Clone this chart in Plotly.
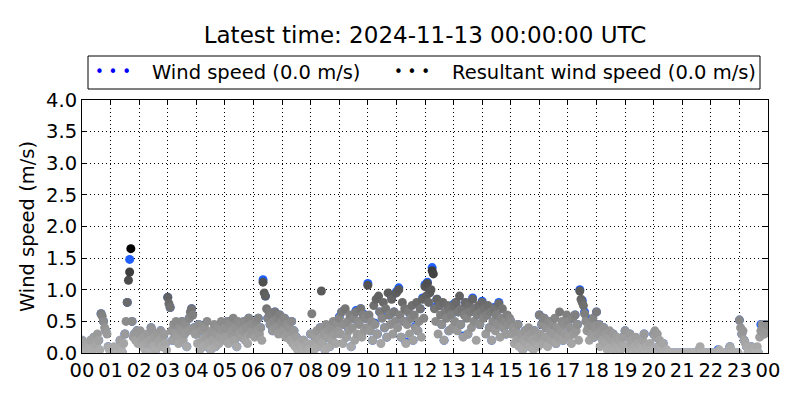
import plotly.graph_objects as go

# Resultant wind speed, 2.5-minute samples, 24 values per hour (00..23)
resultant_by_hour = [
    [0.2, 0.05, 0.1, 0.0, 0.15, 0.05, 0.1, 0.2, 0.0, 0.05, 0.25, 0.1, 0.15, 0.3, 0.2, 0.05, 0.62, 0.58, 0.5, 0.4, 0.35, 0.3, 0.1, 0.05],
    [0.0, 0.05, 0.0, 0.1, 0.0, 0.05, 0.0, 0.1, 0.2, 0.05, 0.0, 0.15, 0.3, 0.5, 0.8, 1.15, 1.28, 1.65, 0.5, 0.25, 0.3, 0.2, 0.35, 0.15],
    [0.3, 0.35, 0.2, 0.1, 0.25, 0.05, 0.15, 0.3, 0.0, 0.2, 0.4, 0.35, 0.1, 0.25, 0.05, 0.3, 0.15, 0.2, 0.35, 0.1, 0.25, 0.3, 0.15, 0.05],
    [0.88, 0.78, 0.72, 0.35, 0.2, 0.45, 0.3, 0.5, 0.25, 0.15, 0.4, 0.35, 0.5, 0.2, 0.3, 0.45, 0.1, 0.35, 0.55, 0.65, 0.7, 0.6, 0.4, 0.3],
    [0.3, 0.15, 0.45, 0.05, 0.35, 0.2, 0.1, 0.4, 0.25, 0.5, 0.15, 0.3, 0.05, 0.35, 0.2, 0.45, 0.1, 0.3, 0.4, 0.15, 0.25, 0.5, 0.35, 0.2],
    [0.4, 0.25, 0.5, 0.15, 0.45, 0.3, 0.35, 0.55, 0.2, 0.4, 0.1, 0.5, 0.3, 0.45, 0.25, 0.35, 0.5, 0.2, 0.4, 0.15, 0.55, 0.3, 0.45, 0.35],
    [0.45, 0.25, 0.5, 0.35, 0.55, 0.3, 0.4, 0.2, 1.12, 0.95, 0.9, 0.7, 0.55, 0.65, 0.45, 0.6, 0.35, 0.5, 0.65, 0.4, 0.55, 0.3, 0.6, 0.45],
    [0.5, 0.35, 0.55, 0.25, 0.45, 0.3, 0.4, 0.2, 0.5, 0.15, 0.35, 0.1, 0.25, 0.05, 0.15, 0.0, 0.1, 0.05, 0.2, 0.0, 0.1, 0.15, 0.05, 0.0],
    [0.3, 0.62, 0.15, 0.05, 0.25, 0.35, 0.1, 0.2, 0.4, 0.98, 0.15, 0.3, 0.05, 0.45, 0.25, 0.35, 0.1, 0.4, 0.2, 0.5, 0.3, 0.15, 0.45, 0.35],
    [0.55, 0.3, 0.65, 0.15, 0.45, 0.7, 0.25, 0.5, 0.35, 0.6, 0.1, 0.4, 0.55, 0.2, 0.65, 0.3, 0.5, 0.45, 0.7, 0.25, 0.6, 0.35, 0.55, 0.4],
    [1.07, 0.6, 0.35, 0.5, 0.2, 0.75, 0.45, 0.85, 0.3, 0.9, 0.65, 0.15, 0.55, 0.8, 0.4, 0.7, 0.25, 0.95, 0.6, 0.45, 0.85, 0.3, 0.65, 0.5],
    [0.95, 0.4, 1.0, 0.6, 0.25, 0.8, 0.5, 0.7, 0.15, 0.45, 0.65, 0.3, 0.55, 0.75, 0.2, 0.6, 0.4, 0.8, 0.35, 0.5, 0.7, 0.25, 0.85, 0.55],
    [1.05, 0.9, 1.1, 0.8, 0.95, 1.0, 1.3, 1.25, 0.7, 0.5, 0.85, 0.3, 0.75, 0.6, 0.45, 0.8, 0.2, 0.65, 0.55, 0.75, 0.35, 0.7, 0.6, 0.4],
    [0.75, 0.5, 0.8, 0.35, 0.65, 0.9, 0.45, 0.7, 0.25, 0.6, 0.8, 0.55, 0.3, 0.75, 0.65, 0.4, 0.85, 0.5, 0.7, 0.2, 0.6, 0.75, 0.45, 0.65],
    [0.8, 0.55, 0.7, 0.3, 0.6, 0.75, 0.4, 0.65, 0.2, 0.5, 0.7, 0.35, 0.6, 0.45, 0.78, 0.25, 0.55, 0.7, 0.4, 0.5, 0.3, 0.6, 0.45, 0.55],
    [0.5, 0.3, 0.4, 0.15, 0.35, 0.2, 0.45, 0.1, 0.25, 0.3, 0.05, 0.2, 0.35, 0.15, 0.25, 0.4, 0.1, 0.3, 0.2, 0.05, 0.35, 0.15, 0.25, 0.1],
    [0.6, 0.3, 0.45, 0.15, 0.55, 0.25, 0.4, 0.1, 0.5, 0.35, 0.2, 0.45, 0.3, 0.55, 0.15, 0.4, 0.25, 0.65, 0.35, 0.5, 0.2, 0.45, 0.3, 0.6],
    [0.5, 0.25, 0.4, 0.15, 0.55, 0.3, 0.6, 0.35, 0.45, 0.2, 0.98, 0.85, 0.8, 0.75, 0.62, 0.5, 0.35, 0.4, 0.2, 0.45, 0.3, 0.55, 0.25, 0.4],
    [0.65, 0.3, 0.45, 0.1, 0.35, 0.2, 0.4, 0.15, 0.3, 0.05, 0.25, 0.35, 0.1, 0.2, 0.3, 0.05, 0.15, 0.25, 0.1, 0.2, 0.05, 0.15, 0.25, 0.1],
    [0.35, 0.1, 0.25, 0.05, 0.3, 0.15, 0.2, 0.0, 0.1, 0.25, 0.05, 0.15, 0.0, 0.1, 0.05, 0.2, 0.3, 0.0, 0.1, 0.05, 0.0, 0.15, 0.05, 0.0],
    [0.3, 0.35, 0.25, 0.3, 0.1, 0.2, 0.0, 0.05, 0.15, 0.0, 0.0, 0.05, 0.0, 0.0, 0.0, 0.0, 0.0, 0.0, 0.0, 0.0, 0.0, 0.0, 0.0, 0.0],
    [0.0, 0.0, 0.0, 0.0, 0.0, 0.0, 0.0, 0.0, 0.0, 0.0, 0.0, 0.0, 0.0, 0.0, 0.05, 0.1, 0.0, 0.0, 0.0, 0.0, 0.0, 0.0, 0.0, 0.0],
    [0.0, 0.0, 0.0, 0.0, 0.0, 0.0, 0.0, 0.05, 0.0, 0.0, 0.0, 0.0, 0.0, 0.0, 0.0, 0.0, 0.1, 0.05, 0.0, 0.0, 0.0, 0.0, 0.0, 0.0],
    [0.52, 0.4, 0.3, 0.35, 0.2, 0.15, 0.1, 0.0, 0.05, 0.0, 0.1, 0.0, 0.05, 0.0, 0.0, 0.1, 0.0, 0.25, 0.35, 0.45, 0.4, 0.3, 0.35, 0.45],
]

# Wind speed, 5-minute samples, 12 values per hour (00..23)
wind_by_hour = [
    [0.2, 0.1, 0.15, 0.1, 0.0, 0.25, 0.15, 0.2, 0.62, 0.5, 0.35, 0.1],
    [0.0, 0.0, 0.0, 0.0, 0.2, 0.0, 0.3, 0.8, 1.48, 0.5, 0.3, 0.35],
    [0.3, 0.2, 0.25, 0.15, 0.0, 0.4, 0.1, 0.05, 0.15, 0.35, 0.25, 0.15],
    [0.88, 0.72, 0.2, 0.3, 0.25, 0.4, 0.5, 0.3, 0.1, 0.55, 0.7, 0.4],
    [0.3, 0.45, 0.35, 0.1, 0.25, 0.15, 0.05, 0.2, 0.1, 0.4, 0.25, 0.35],
    [0.4, 0.5, 0.45, 0.35, 0.2, 0.1, 0.3, 0.25, 0.5, 0.4, 0.55, 0.45],
    [0.45, 0.5, 0.55, 0.4, 1.16, 0.9, 0.55, 0.45, 0.35, 0.65, 0.55, 0.6],
    [0.5, 0.55, 0.45, 0.4, 0.5, 0.35, 0.25, 0.15, 0.1, 0.2, 0.1, 0.05],
    [0.3, 0.15, 0.25, 0.1, 0.4, 0.15, 0.05, 0.25, 0.1, 0.2, 0.3, 0.45],
    [0.57, 0.65, 0.45, 0.25, 0.37, 0.1, 0.55, 0.67, 0.5, 0.7, 0.62, 0.55],
    [1.1, 0.35, 0.2, 0.47, 0.3, 0.65, 0.57, 0.4, 0.25, 0.6, 0.88, 0.65],
    [0.97, 1.03, 0.25, 0.5, 0.17, 0.65, 0.55, 0.2, 0.42, 0.35, 0.7, 0.87],
    [1.08, 1.12, 0.98, 1.35, 0.72, 0.85, 0.75, 0.45, 0.2, 0.57, 0.35, 0.6],
    [0.77, 0.8, 0.65, 0.45, 0.27, 0.8, 0.3, 0.65, 0.87, 0.7, 0.6, 0.45],
    [0.82, 0.7, 0.6, 0.4, 0.2, 0.72, 0.6, 0.8, 0.55, 0.4, 0.3, 0.45],
    [0.5, 0.4, 0.35, 0.45, 0.25, 0.05, 0.35, 0.25, 0.1, 0.2, 0.35, 0.25],
    [0.6, 0.45, 0.55, 0.4, 0.5, 0.2, 0.3, 0.15, 0.25, 0.35, 0.2, 0.3],
    [0.5, 0.4, 0.55, 0.6, 0.45, 1.0, 0.83, 0.65, 0.55, 0.45, 0.3, 0.25],
    [0.65, 0.45, 0.35, 0.4, 0.3, 0.25, 0.1, 0.3, 0.15, 0.1, 0.05, 0.25],
    [0.35, 0.25, 0.3, 0.2, 0.1, 0.05, 0.0, 0.05, 0.3, 0.1, 0.0, 0.05],
    [0.3, 0.25, 0.1, 0.0, 0.15, 0.0, 0.0, 0.0, 0.0, 0.0, 0.0, 0.0],
    [0.0, 0.0, 0.0, 0.0, 0.0, 0.0, 0.0, 0.05, 0.0, 0.0, 0.0, 0.0],
    [0.0, 0.0, 0.0, 0.05, 0.0, 0.0, 0.0, 0.0, 0.1, 0.0, 0.0, 0.0],
    [0.52, 0.3, 0.2, 0.1, 0.05, 0.1, 0.05, 0.0, 0.0, 0.45, 0.3, 0.45],
]

tick_labels = ["00", "01", "02", "03", "04", "05", "06", "07", "08", "09", "10", "11",
               "12", "13", "14", "15", "16", "17", "18", "19", "20", "21", "22", "23", "00"]
y_ticks = [0.0, 0.5, 1.0, 1.5, 2.0, 2.5, 3.0, 3.5, 4.0]

x_res = [h + i * 2.5 / 60 for h in range(24) for i in range(24)]
x_wind = [h + i * 5 / 60 for h in range(24) for i in range(12)]
resultant = [v for row in resultant_by_hour for v in row]
wind = [v for row in wind_by_hour for v in row]

FONT = "DejaVu Sans"

fig = go.Figure()
fig.add_trace(go.Scatter(
    x=x_wind, y=wind, mode="markers", name="Wind speed (0.0 m/s)",
    marker=dict(size=9, color="#1f5fff", line=dict(width=0)),
))
fig.add_trace(go.Scatter(
    x=x_res, y=resultant, mode="markers", name="Resultant wind speed (0.0 m/s)",
    marker=dict(size=9, color=resultant, cmin=0, cmax=1.65,
                colorscale=[[0, "#b0b0b0"], [0.3, "#8c8c8c"], [0.5, "#676767"],
                            [0.75, "#454545"], [1, "#000000"]],
                line=dict(width=0)),
))

axis_common = dict(
    showline=True, linecolor="black", linewidth=1, mirror="allticks",
    ticks="inside", ticklen=5, tickcolor="black", automargin=False,
    showgrid=True, gridcolor="black", gridwidth=1, griddash="1px,3px",
    zeroline=False, tickfont=dict(family=FONT, size=19.5, color="black"),
)

fig.update_layout(
    width=800, height=400,
    margin=dict(l=82, r=32, t=100, b=47),
    paper_bgcolor="white", plot_bgcolor="white",
    showlegend=False,
    font=dict(family=FONT, color="black"),
    title=dict(text="Latest time: 2024-11-13 00:00:00 UTC", x=425 / 800, xanchor="center",
               y=1 - 35 / 400, yanchor="middle", font=dict(family=FONT, size=23, color="black")),
    xaxis=dict(range=[0, 24], tickvals=list(range(25)), ticktext=tick_labels, **axis_common),
    yaxis=dict(range=[0, 4], tickvals=y_ticks, ticktext=[f"{v:.1f}" for v in y_ticks],
               title=dict(text="Wind speed (m/s)", font=dict(family=FONT, size=19.5), standoff=6),
               **axis_common),
)

# matplotlib-style legend box above the axes
fig.add_shape(type="rect", xref="paper", yref="paper",
              x0=(88 - 82) / 686, x1=(760 - 82) / 686, y0=(353 - 89) / 253, y1=(353 - 56) / 253,
              line=dict(color="black", width=1), fillcolor="white")
legend_items = [("Wind speed (0.0 m/s)", "#0000ff", 93, 150),
                ("Resultant wind speed (0.0 m/s)", "#000000", 392, 450)]
for label, color, dots_x, text_x in legend_items:
    fig.add_annotation(xref="paper", yref="paper", x=(dots_x - 82) / 686, y=(353 - 72) / 253,
                       text="• • •", showarrow=False, xanchor="left", yanchor="middle",
                       font=dict(family=FONT, size=15, color=color))
    fig.add_annotation(xref="paper", yref="paper", x=(text_x - 82) / 686, y=(353 - 72) / 253,
                       text=label, showarrow=False, xanchor="left", yanchor="middle",
                       font=dict(family=FONT, size=19.5, color="black"))

fig.write_html("out.html", post_script="document.body.style.margin = '0';",
               config={"displayModeBar": False})
